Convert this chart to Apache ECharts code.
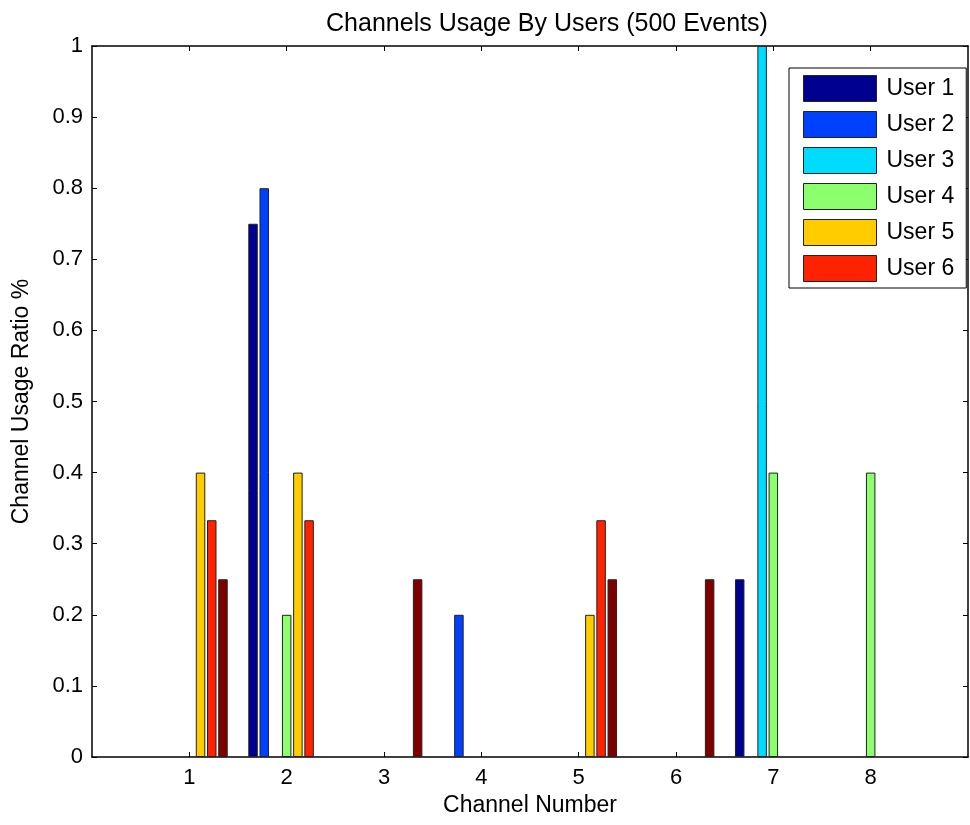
<!DOCTYPE html>
<html>
<head>
<meta charset="utf-8">
<script src="https://cdn.jsdelivr.net/npm/echarts@6/dist/echarts.min.js"></script>
<style>
  html, body { margin: 0; padding: 0; background: #fff; }
  #chart { width: 970px; height: 825px; }
</style>
</head>
<body>
<div id="chart"></div>
<script>
// channel numbers shown on the x axis
const channels = ['1', '2', '3', '4', '5', '6', '7', '8'];
const userNames = ['User 1', 'User 2', 'User 3', 'User 4', 'User 5', 'User 6', 'User 7'];

// usage ratio per channel, one array per user (null = no bar)
const user1 = [null, 0.75, null, null, null, null, 0.25, null];
const user2 = [null, 0.8, null, 0.2, null, null, null, null];
const user3 = [null, null, null, null, null, null, 1.0, null];
const user4 = [null, 0.2, null, null, null, null, 0.4, 0.4];
const user5 = [0.4, 0.4, null, null, 0.2, null, null, null];
const user6 = [0.333, 0.333, null, null, 0.333, null, null, null];
const user7 = [0.25, null, 0.25, null, 0.25, 0.25, null, null];

const userData = [user1, user2, user3, user4, user5, user6, user7];
const colors = ['#000090', '#0040ff', '#00dcff', '#8cff6e', '#ffcc00', '#ff2200', '#800000'];

// axis runs 0..9 like matlab, channels sit on the inner ticks
const xCats = ['0'].concat(channels, ['9']);
const isChannel = (i) => i > 0 && i < xCats.length - 1;

const font = 'Liberation Sans, Arial, sans-serif';

const chart = echarts.init(document.getElementById('chart'), null, { renderer: 'canvas' });

const series = userData.map((vals, i) => ({
  name: userNames[i],
  type: 'bar',
  data: [null].concat(vals, [null]),
  barWidth: 9.5,
  barGap: '18%',
  itemStyle: { color: colors[i], borderColor: '#222', borderWidth: 1 },
  emphasis: { disabled: true }
}));

chart.setOption({
  animation: false,
  title: {
    text: 'Channels Usage By Users (500 Events)',
    left: 542,
    textAlign: 'center',
    top: 7,
    textStyle: { fontFamily: font, fontSize: 25, fontWeight: 'normal', color: '#000' }
  },
  legend: {
    data: userNames.slice(0, 6),
    orient: 'vertical',
    left: 789,
    top: 68,
    itemWidth: 73,
    itemHeight: 26,
    itemGap: 9,
    padding: [7, 12, 6, 14],
    backgroundColor: '#fff',
    borderColor: '#000',
    borderWidth: 1,
    borderRadius: 0,
    selectedMode: false,
    icon: 'rect',
    itemStyle: { borderColor: '#222', borderWidth: 1 },
    textStyle: { fontFamily: font, fontSize: 23, color: '#000', padding: [0, 0, 0, 5] }
  },
  grid: { left: 92, right: 2, top: 46, bottom: 68, show: false },
  xAxis: [
    {
      type: 'category',
      data: xCats,
      boundaryGap: false,
      name: 'Channel Number',
      nameLocation: 'middle',
      nameGap: 35,
      nameTextStyle: { fontFamily: font, fontSize: 23, color: '#000' },
      axisLine: { onZero: false, lineStyle: { color: '#000', width: 1.5 } },
      axisTick: { inside: true, length: 5, interval: (i) => isChannel(i), lineStyle: { color: '#000' } },
      axisLabel: {
        interval: (i) => isChannel(i),
        fontFamily: font, fontSize: 22, color: '#000', margin: 10
      },
      splitLine: { show: false }
    },
    {
      type: 'category',
      data: xCats,
      boundaryGap: false,
      position: 'top',
      axisLine: { onZero: false, lineStyle: { color: '#000', width: 1.5 } },
      axisTick: { inside: true, length: 5, interval: (i) => isChannel(i), lineStyle: { color: '#000' } },
      axisLabel: { show: false },
      splitLine: { show: false }
    }
  ],
  yAxis: [
    {
      type: 'value',
      min: 0,
      max: 1,
      interval: 0.1,
      name: 'Channel Usage Ratio %',
      nameLocation: 'middle',
      nameRotate: 90,
      nameGap: 59,
      nameTextStyle: { fontFamily: font, fontSize: 23, color: '#000' },
      axisLine: { show: true, lineStyle: { color: '#000', width: 1.5 } },
      axisTick: { show: true, inside: true, length: 5, lineStyle: { color: '#000' } },
      axisLabel: {
        fontFamily: font, fontSize: 22, color: '#000', margin: 9,
        formatter: (v) => String(Math.round(v * 10) / 10)
      },
      splitLine: { show: false }
    },
    {
      type: 'value',
      min: 0,
      max: 1,
      interval: 0.1,
      position: 'right',
      axisLine: { show: true, lineStyle: { color: '#000', width: 1.5 } },
      axisTick: { show: true, inside: true, length: 5, lineStyle: { color: '#000' } },
      axisLabel: { show: false },
      splitLine: { show: false }
    }
  ],
  series: series
});
</script>
</body>
</html>
